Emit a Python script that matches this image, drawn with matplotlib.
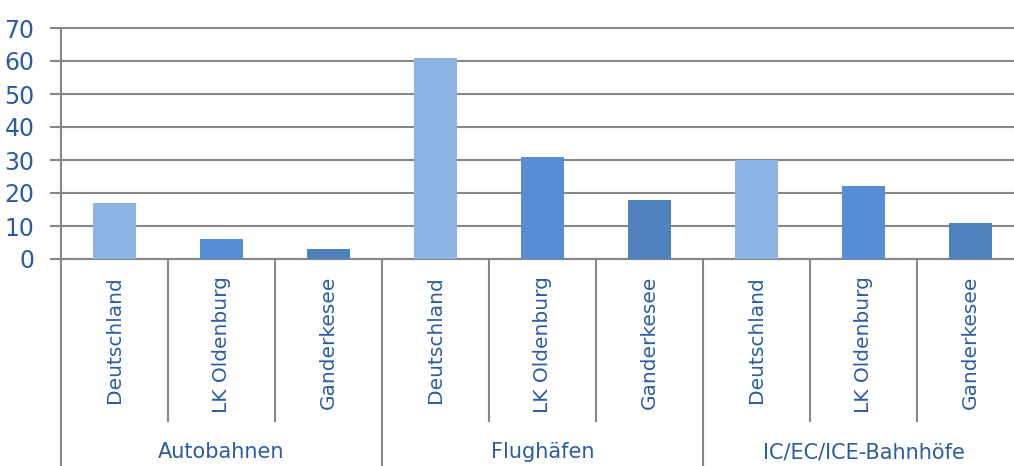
import matplotlib
matplotlib.use("Agg")
import matplotlib.pyplot as plt
import numpy as np

# data
groups = ["Autobahnen", "Flughäfen", "IC/EC/ICE-Bahnhöfe"]
regions = ["Deutschland", "LK Oldenburg", "Ganderkesee"]
autobahnen = [17, 6, 3]
flughaefen = [61, 31, 18]
bahnhoefe = [30, 22, 11]
yticks = [0, 10, 20, 30, 40, 50, 60, 70]

colors = ["#8DB3E2", "#558ED5", "#4F81BD"]
text_col = "#2B5CA3"
line_col = "#878787"

plt.rcParams['font.family'] = ['DejaVu Sans']

W, H = 1014, 466
fig = plt.figure(figsize=(W / 100, H / 100), dpi=100)
# plot area: left 61px, 0-line at y=259, 70-line at y=28, slot width 107px
ax = fig.add_axes([61 / W, (H - 259) / H, 9 * 107 / W, 231 / H])

values = autobahnen + flughaefen + bahnhoefe
x = np.arange(len(values)) + 0.5
bar_cols = colors * len(groups)
ax.bar(x, values, width=0.4, color=bar_cols, zorder=3)

ax.set_xlim(0, 9)
ax.set_ylim(0, 70)
ax.set_yticks(yticks)
ax.set_yticklabels([str(v) for v in yticks], color=text_col, fontsize=17)
ax.yaxis.grid(True, color=line_col, linewidth=1.5)
for gl in ax.get_ygridlines():
    gl.set_clip_on(False)
ax.set_axisbelow(True)
ax.tick_params(axis='y', length=8, width=1.5, color=line_col, pad=11)
ax.tick_params(axis='x', length=0, labelbottom=False)
for s in ["top", "right"]:
    ax.spines[s].set_visible(False)
for s in ["left", "bottom"]:
    ax.spines[s].set_color(line_col)
    ax.spines[s].set_linewidth(1.5)

tr = ax.get_xaxis_transform()
cat_bottom = (259 - 421) / 231
grp_bottom = -207 / 231
for i in range(10):
    if i % 3 == 0:
        ax.plot([i, i], [0, grp_bottom], transform=tr, color=line_col, lw=1.5, clip_on=False)
    else:
        ax.plot([i, i], [0, cat_bottom], transform=tr, color=line_col, lw=1.5, clip_on=False)

for i, xi in enumerate(x):
    ax.text(xi, (259 - 276) / 231, regions[i % 3], transform=tr, rotation=90,
            ha='center', va='top', color=text_col, fontsize=14.5)

for g, name in enumerate(groups):
    ax.text(g * 3 + 1.5, (259 - 452) / 231, name, transform=tr,
            ha='center', va='center', color=text_col, fontsize=15)

fig.savefig("out.png", dpi=100)
